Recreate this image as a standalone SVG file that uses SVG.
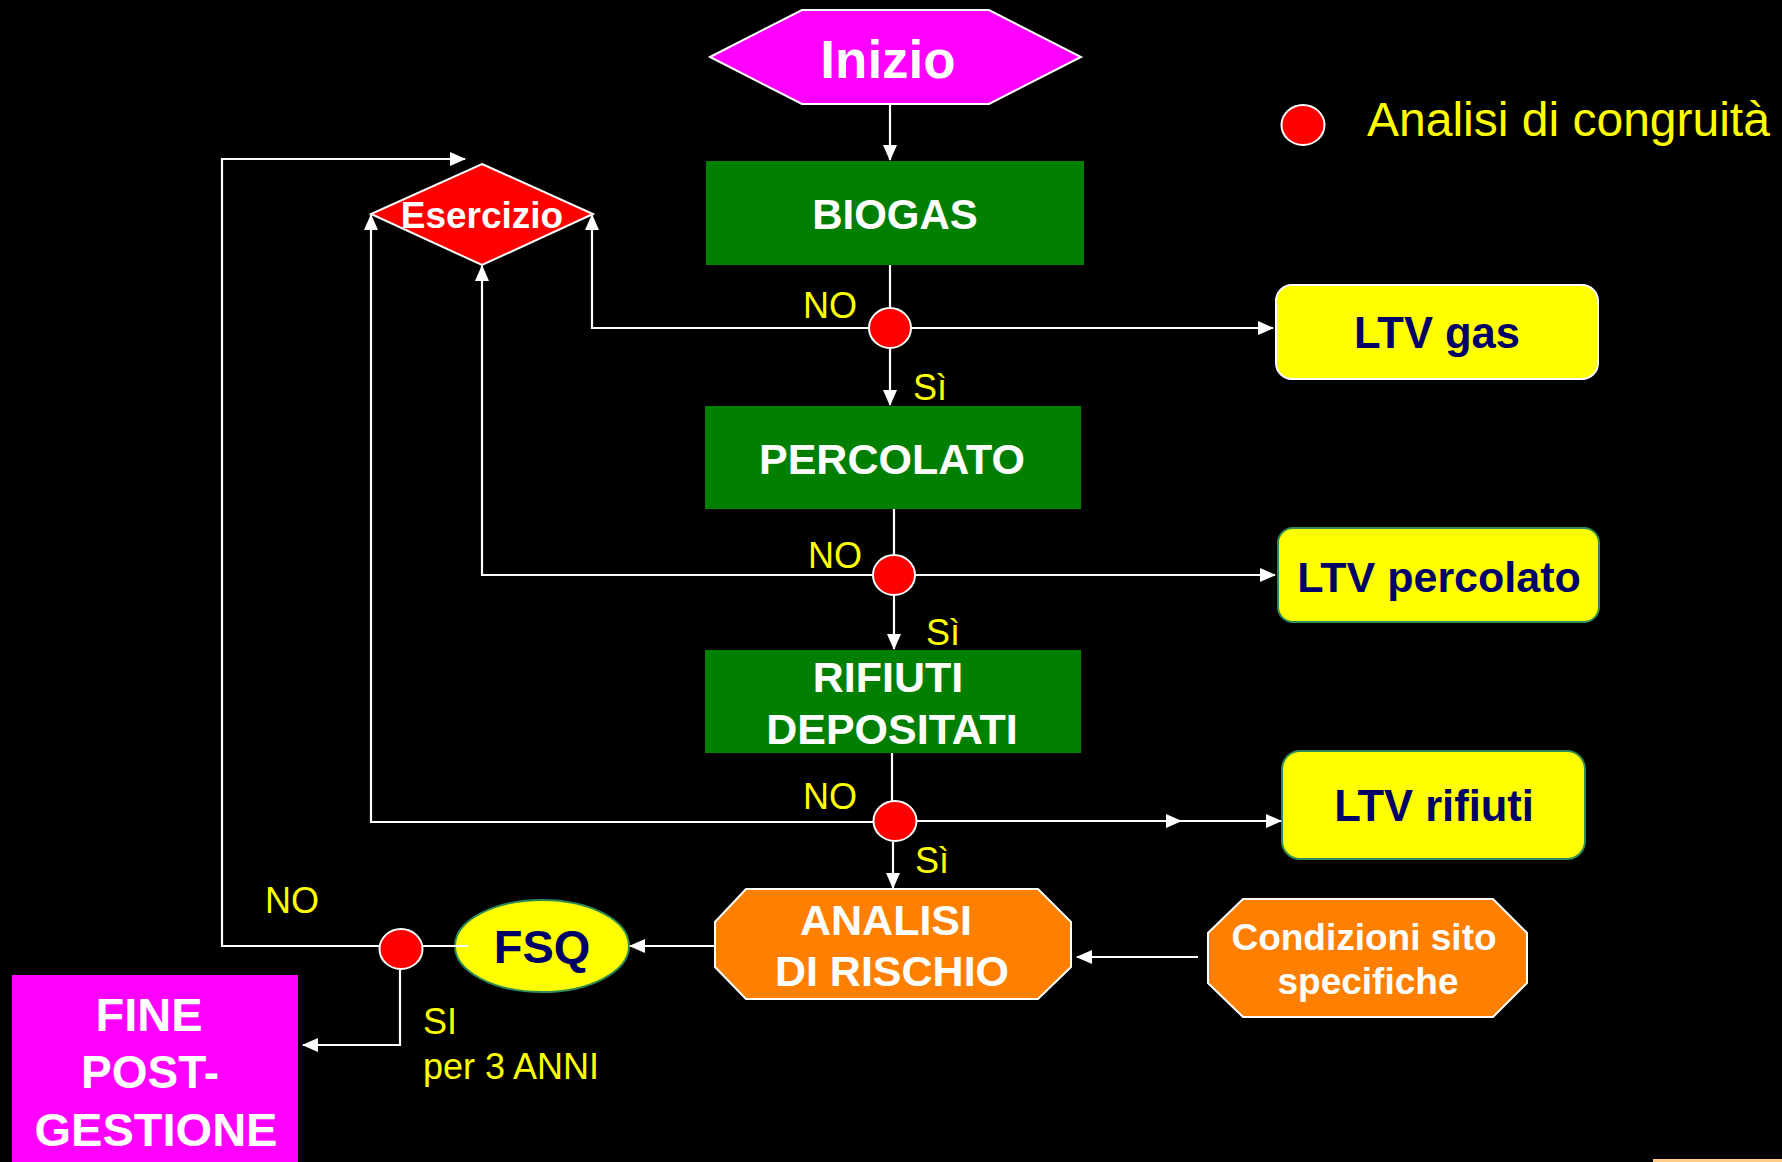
<svg xmlns="http://www.w3.org/2000/svg" width="1782" height="1162" viewBox="0 0 1782 1162">
<style>
.bg{fill:#000}
.conn{fill:none;stroke:#fff;stroke-width:2.2}
.wt{font-family:"Liberation Sans",Arial,sans-serif;font-weight:bold;fill:#fff;text-anchor:middle}
.nv{font-family:"Liberation Sans",Arial,sans-serif;font-weight:bold;fill:#000066;text-anchor:middle}
.yl{font-family:"Liberation Sans",Arial,sans-serif;fill:#ffff00;font-size:36px}
.green{fill:#007f00}
.orange{fill:#ff8000;stroke:#fff;stroke-width:2}
.dot{fill:#ff0000;stroke:#fff;stroke-width:2}
.ltv{fill:#ffff00;stroke:#2e8b57;stroke-width:2}
</style>
<defs>
<marker id="ah" markerWidth="16" markerHeight="14" refX="15" refY="7" orient="auto" markerUnits="userSpaceOnUse">
<path d="M0,0 L16,7 L0,14 Z" fill="#fff"/>
</marker>
</defs>
<rect class="bg" x="0" y="0" width="1782" height="1162"/>

<g id="inizio">
<polygon points="710,57 802,10 989,10 1081,57 989,104 802,104" fill="#ff00ff" stroke="#fff" stroke-width="2"/>
<text class="wt" x="888" y="78" font-size="53">Inizio</text>
</g>

<g id="biogas">
<rect class="green" x="706" y="161" width="378" height="104"/>
<text class="wt" x="895" y="229" font-size="42">BIOGAS</text>
</g>

<g id="percolato">
<rect class="green" x="705" y="406" width="376" height="103"/>
<text class="wt" x="892" y="474" font-size="43">PERCOLATO</text>
</g>

<g id="rifiuti">
<rect class="green" x="705" y="650" width="376" height="103"/>
<text class="wt" x="888" y="692" font-size="43">RIFIUTI</text>
<text class="wt" x="892" y="744" font-size="43">DEPOSITATI</text>
</g>

<g id="esercizio">
<polygon points="482,164 593,214 482,265 371,214" fill="#ff0000" stroke="#fff" stroke-width="2"/>
<text class="wt" x="482" y="228" font-size="37">Esercizio</text>
</g>

<g id="ltv-gas">
<rect x="1276" y="285" width="322" height="94" rx="16" fill="#ffff00" stroke="#fff" stroke-width="2"/>
<text class="nv" x="1437" y="348" font-size="43.5">LTV gas</text>
</g>

<g id="ltv-percolato">
<rect class="ltv" x="1278" y="528" width="321" height="94" rx="15"/>
<text class="nv" x="1439" y="592" font-size="43">LTV percolato</text>
</g>

<g id="ltv-rifiuti">
<rect class="ltv" x="1282" y="751" width="303" height="108" rx="18"/>
<text class="nv" x="1434" y="821" font-size="43.5">LTV rifiuti</text>
</g>

<g id="analisi-rischio">
<polygon class="orange" points="746,889 1038,889 1071,922 1071,967 1038,999 746,999 715,967 715,922"/>
<text class="wt" x="886" y="935" font-size="43">ANALISI</text>
<text class="wt" x="892" y="986" font-size="43">DI RISCHIO</text>
</g>

<g id="condizioni">
<polygon class="orange" points="1243,899 1493,899 1527,933 1527,983 1493,1017 1243,1017 1208,983 1208,933"/>
<text class="wt" x="1364" y="950" font-size="37">Condizioni sito</text>
<text class="wt" x="1368" y="994" font-size="37">specifiche</text>
</g>

<g id="fsq">
<ellipse cx="542" cy="946" rx="87" ry="46" fill="#ffff00" stroke="#2e8b57" stroke-width="2"/>
<text class="nv" x="542" y="963" font-size="47">FSQ</text>
</g>

<g id="fine">
<rect x="12" y="975" width="286" height="190" fill="#ff00ff"/>
<text class="wt" x="149" y="1031" font-size="47">FINE</text>
<text class="wt" x="150" y="1088" font-size="46">POST-</text>
<text class="wt" x="156" y="1146" font-size="47">GESTIONE</text>
</g>

<g id="connectors">
<path class="conn" d="M890,104 V160" marker-end="url(#ah)"/>
<path class="conn" d="M890,265 V308"/>
<path class="conn" d="M890,348 V405" marker-end="url(#ah)"/>
<path class="conn" d="M911,328 H1273" marker-end="url(#ah)"/>
<path class="conn" d="M869,328 H592 V215" marker-end="url(#ah)"/>
<path class="conn" d="M894,509 V555"/>
<path class="conn" d="M894,595 V649" marker-end="url(#ah)"/>
<path class="conn" d="M915,575 H1275" marker-end="url(#ah)"/>
<path class="conn" d="M873,575 H482 V266" marker-end="url(#ah)"/>
<path class="conn" d="M892,753 V801"/>
<path class="conn" d="M893,842 V888" marker-end="url(#ah)"/>
<path class="conn" d="M917,821 H1181" stroke-width="3.5" marker-end="url(#ah)"/>
<path class="conn" d="M1181,821 H1281" marker-end="url(#ah)"/>
<path class="conn" d="M874,822 H371 V215" marker-end="url(#ah)"/>
<path class="conn" d="M715,946 H630" marker-end="url(#ah)"/>
<path class="conn" d="M1198,957 H1077" marker-end="url(#ah)"/>
<path class="conn" d="M468,946 H422"/>
<path class="conn" d="M380,946 H222 V159 H465" marker-end="url(#ah)"/>
<path class="conn" d="M400,970 V1045 H303" marker-end="url(#ah)"/>
</g>

<g id="dot-biogas"><ellipse class="dot" cx="890" cy="328" rx="21" ry="20"/></g>
<g id="dot-percolato"><ellipse class="dot" cx="894" cy="575" rx="21" ry="20"/></g>
<g id="dot-rifiuti"><ellipse class="dot" cx="895" cy="821" rx="21.5" ry="20"/></g>
<g id="dot-fsq"><ellipse class="dot" cx="401" cy="949" rx="21.5" ry="20"/></g>

<g id="labels">
<text class="yl" x="803" y="318">NO</text>
<text class="yl" x="913" y="400">Sì</text>
<text class="yl" x="808" y="568">NO</text>
<text class="yl" x="926" y="645">Sì</text>
<text class="yl" x="803" y="809">NO</text>
<text class="yl" x="915" y="873">Sì</text>
<text class="yl" x="265" y="913">NO</text>
<text class="yl" x="423" y="1034">SI</text>
<text class="yl" x="423" y="1079">per 3 ANNI</text>
</g>

<g id="legend">
<ellipse class="dot" cx="1303" cy="125" rx="21.5" ry="20"/>
<text x="1367" y="136" font-family="Liberation Sans, Arial, sans-serif" font-size="48" fill="#ffff00">Analisi di congruità</text>
</g>

<rect x="1653" y="1159" width="129" height="3" fill="#ffcc88"/>
</svg>
